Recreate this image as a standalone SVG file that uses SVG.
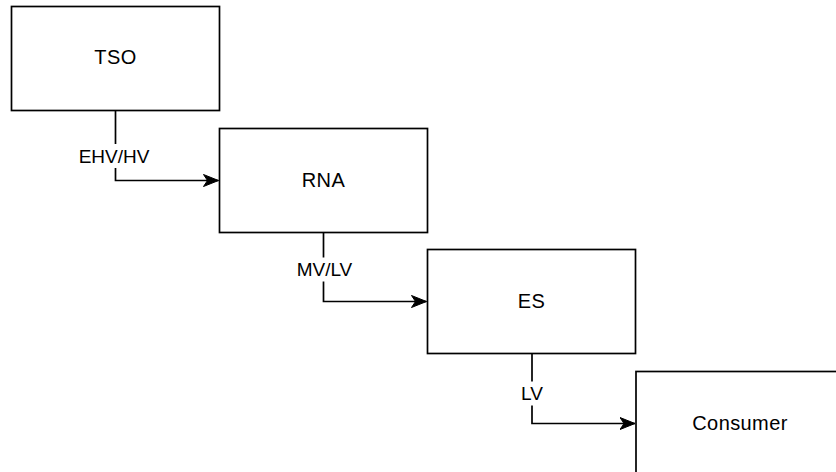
<svg xmlns="http://www.w3.org/2000/svg" width="836" height="472" viewBox="0 0 836 472">
<defs>
<style>
.box{fill:#fff;stroke:#000;stroke-width:1.7}
.lbl{font-family:"Liberation Sans",Arial,sans-serif;font-size:20px;letter-spacing:0.4px;fill:#000;text-anchor:middle}
.elbl{font-family:"Liberation Sans",Arial,sans-serif;font-size:19px;fill:#000;text-anchor:middle}
.edge{fill:none;stroke:#000;stroke-width:1.7}
.bg{fill:#fff}
</style>
<marker id="arr" markerUnits="userSpaceOnUse" markerWidth="16" markerHeight="14" viewBox="0 0 16 14" refX="15.5" refY="7" orient="auto">
<path d="M15.5 7 L0.5 1 L4.5 7 L0.5 13 Z" fill="#000" stroke="#000" stroke-width="1"/>
</marker>
</defs>
<rect width="836" height="472" fill="#fff"/>
<g id="connectors">
<path class="edge" d="M115.5 110.5 V180.5 H218.5" marker-end="url(#arr)"/>
<path class="edge" d="M323.5 232.5 V301.5 H426.5" marker-end="url(#arr)"/>
<path class="edge" d="M532 353.5 V423.5 H635" marker-end="url(#arr)"/>
<rect class="bg" x="77" y="144" width="76" height="24"/>
<text class="elbl" x="114" y="162.5">EHV/HV</text>
<rect class="bg" x="296" y="257.5" width="57" height="24"/>
<text class="elbl" x="324.5" y="276">MV/LV</text>
<rect class="bg" x="518" y="381.5" width="28" height="24"/>
<text class="elbl" x="532" y="400">LV</text>
</g>
<g id="tso">
<rect class="box" x="11.5" y="6.5" width="208" height="104"/>
<text class="lbl" x="115.5" y="64">TSO</text>
</g>
<g id="rna">
<rect class="box" x="219.5" y="128.5" width="208" height="104"/>
<text class="lbl" x="323.5" y="187">RNA</text>
</g>
<g id="es">
<rect class="box" x="427.5" y="249.5" width="208" height="104"/>
<text class="lbl" x="531.5" y="308">ES</text>
</g>
<g id="consumer">
<rect class="box" x="636" y="371.5" width="208" height="104"/>
<text class="lbl" x="740" y="430">Consumer</text>
</g>
</svg>
